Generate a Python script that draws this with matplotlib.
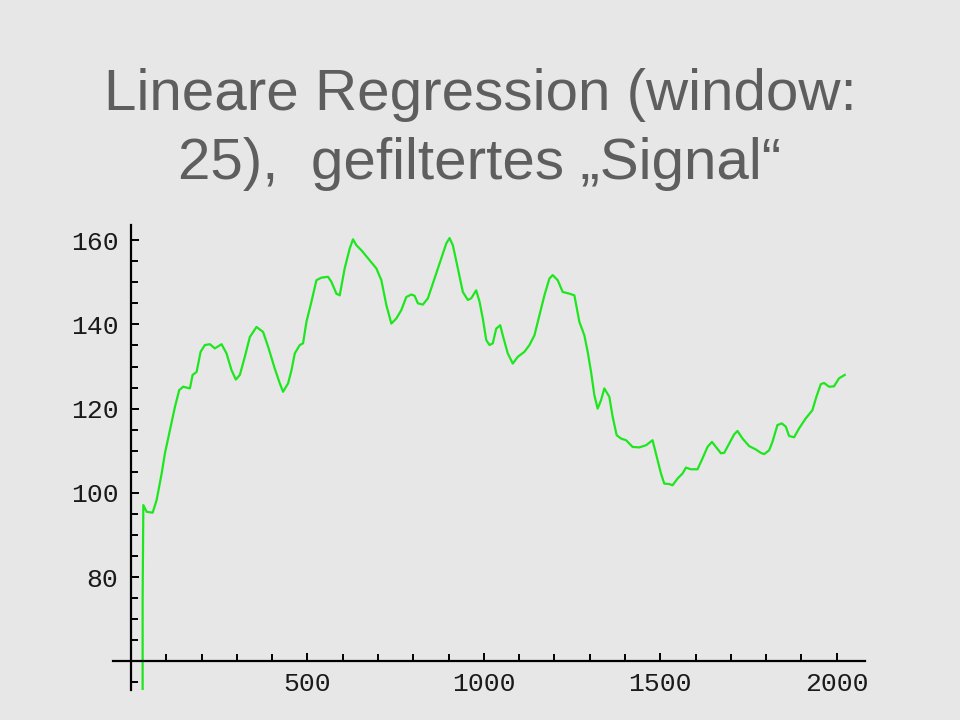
import matplotlib
matplotlib.use("Agg")
import matplotlib.pyplot as plt
from matplotlib.ticker import MultipleLocator

title_line1 = "Lineare Regression (window:"
title_line2 = "25),  gefiltertes \u201eSignal\u201c"

x_values = [33, 33, 35, 44.4, 61.4, 72.7, 86.9, 96.2, 110.4, 124.5, 136.7, 148, 167,
            174.6, 185.9, 197.3, 209.4, 223.6, 237.7, 256.7, 270.8, 285, 297.2, 308.5,
            322.6, 336.8, 355.7, 374.4, 388.6, 407.5, 421.7, 431, 445.2, 454.8, 464.1,
            478.3, 487.6, 497.2, 511.4, 525.5, 539.7, 558.4, 568, 582.1, 591.5, 605.6,
            619.8, 629.1, 638.7, 652.9, 671.6, 695.3, 709.5, 723.6, 737.8, 751.9, 766.1,
            780.2, 794.4, 803.7, 813.1, 827.2, 841.4, 860.3, 879.3, 893.4, 902.8, 912.1,
            926.3, 940.4, 954.6, 964.2, 978.3, 987.7, 997, 1006.7, 1016, 1025.3, 1035,
            1046.3, 1053.6, 1067.8, 1082, 1096.1, 1115, 1129.2, 1143.3, 1157.5, 1171.6,
            1185.8, 1195.1, 1209.3, 1223.4, 1242.4, 1256.5, 1270.7, 1284.8, 1294.2,
            1303.8, 1313.1, 1322.5, 1332.1, 1341.4, 1355.6, 1364.9, 1376.3, 1388.7,
            1402.9, 1421.6, 1440.5, 1459.5, 1478.1, 1492.3, 1501.9, 1511.2, 1525.4,
            1534.7, 1548.9, 1563, 1572.7, 1586.8, 1605.5, 1619.7, 1633.8, 1646.3,
            1657.6, 1671.8, 1681.1, 1695.3, 1709.4, 1718.8, 1733, 1751.9, 1770.8, 1785,
            1794.3, 1808.4, 1817.8, 1832, 1844.4, 1855.7, 1865, 1879.2, 1893.3, 1912.3,
            1930.9, 1942.3, 1954.7, 1964, 1978.2, 1992.3, 2006.5, 2022.6]

y_values = [40, 75, 97.1, 95.5, 95.3, 98.3, 104.6, 109.4, 114.9, 120.4, 124.4, 125.2, 124.8,
            128, 128.7, 133.5, 135.1, 135.3, 134.3, 135.3, 133.1, 129.1, 126.9, 128,
            132.3, 137, 139.4, 138.2, 134.7, 129.5, 126, 124, 126, 129.1, 133.1,
            135.1, 135.5, 140.6, 145.4, 150.5, 151.1, 151.3, 150.1, 147.3, 146.9, 153.3,
            158, 160.2, 158.8, 157.6, 155.7, 153.3, 150.5, 144.6, 140.2, 141.4, 143.4,
            146.5, 147.1, 146.8, 145, 144.7, 146.2, 150.9, 155.7, 159.2, 160.5, 158.8,
            153.3, 147.7, 145.8, 146.2, 148.1, 145.4, 141.4, 136.3, 135.1, 135.5, 139,
            139.8, 137.4, 133.1, 130.7, 132.3, 133.5, 135.1, 137.4, 142.2, 146.9,
            150.9, 151.7, 150.5, 147.7, 147.3, 146.9, 140.6, 137.4, 133.5,
            128.7, 123.2, 120, 122, 124.8, 122.8, 118.1, 113.7, 112.9,
            112.5, 110.9, 110.8, 111.3, 112.5, 107.8, 104.6, 102.2, 102.1,
            101.8, 103.4, 104.6, 106, 105.6, 105.6, 108.2, 110.9, 112.1,
            110.9, 109.4, 109.5, 111.7, 113.9, 114.7, 112.9, 111.1, 110.3, 109.5,
            109.2, 110.1, 112.1, 116.1, 116.5, 115.7, 113.5, 113.2, 115.3, 117.7,
            119.6, 122.8, 125.8, 126.1, 125.2, 125.3, 127.2, 128]

y_ticks = [80, 100, 120, 140, 160]
x_ticks = [500, 1000, 1500, 2000]

bg = "#e7e7e7"
fig = plt.figure(figsize=(9.6, 7.2), dpi=100, facecolor=bg)
ax = fig.add_axes([0.1177, 0.0417, 0.7833, 0.6458])
ax.set_facecolor(bg)
ax.patch.set_alpha(0)

ax.plot(x_values, y_values, color="#1ee61e", lw=1.6, clip_on=True)

ax.set_xlim(-51, 2080)
ax.set_ylim(53.2, 163.6)

for s in ["top", "right"]:
    ax.spines[s].set_visible(False)
ax.spines["left"].set_position(("data", 0))
ax.spines["bottom"].set_position(("data", 60))
ax.spines["left"].set_linewidth(1.6)
ax.spines["bottom"].set_linewidth(1.6)

ax.set_xticks(x_ticks)
ax.set_yticks(y_ticks)
ax.xaxis.set_minor_locator(MultipleLocator(100))
ax.yaxis.set_minor_locator(MultipleLocator(5))
ax.tick_params(axis="both", which="both", direction="in", width=1.4, color="black")
ax.tick_params(axis="both", which="major", length=6)
ax.tick_params(axis="both", which="minor", length=5)
ax.tick_params(axis="y", which="major", pad=9)
ax.tick_params(axis="x", which="major", pad=8)
for lab in ax.get_xticklabels() + ax.get_yticklabels():
    lab.set_fontfamily("Liberation Mono")
    lab.set_fontsize(19)
    lab.set_color("#1a1a1a")

fig.text(0.5, 1 - 110 / 720, title_line1, ha="center", va="baseline",
         fontsize=42, color="#5e5e5e", family="Liberation Sans")
fig.text(0.5, 1 - 179 / 720, title_line2, ha="center", va="baseline",
         fontsize=42, color="#5e5e5e", family="Liberation Sans")

fig.savefig("out.png", dpi=100, facecolor=bg)
